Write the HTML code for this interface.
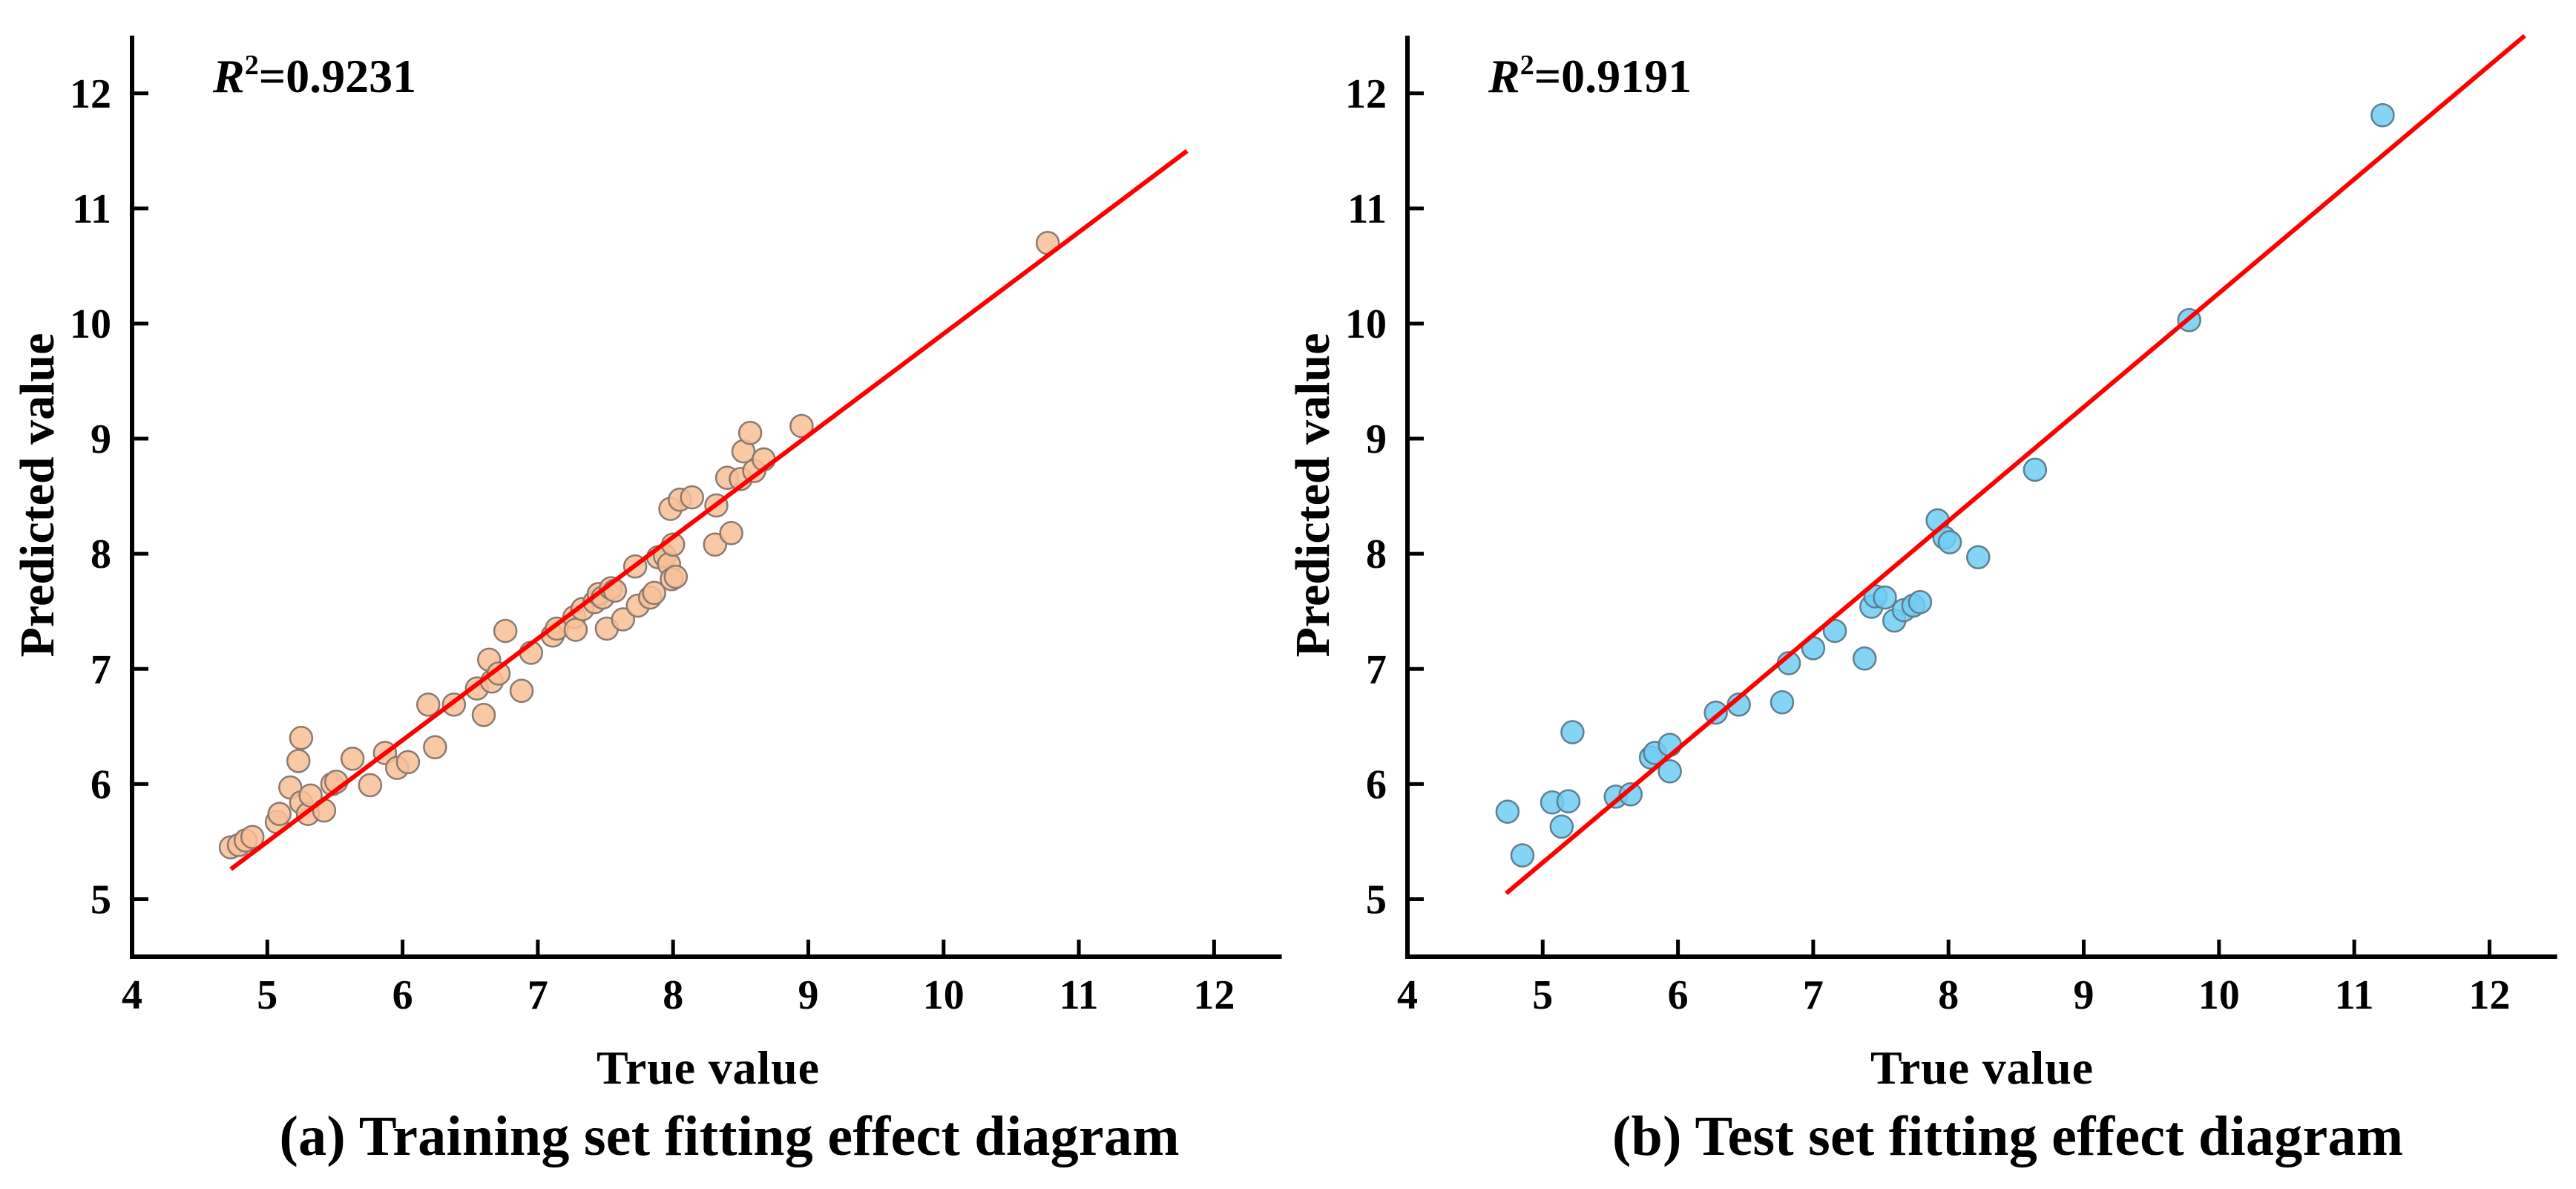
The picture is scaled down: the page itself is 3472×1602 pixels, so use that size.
<!DOCTYPE html>
<html><head><meta charset="utf-8"><style>
html,body{margin:0;padding:0;background:#fff;}
svg{display:block;font-family:"Liberation Serif",serif;font-weight:bold;}
</style></head><body>
<svg id="fig" width="3472" height="1602" viewBox="0 0 3472 1602">
<text x="287" y="124" font-size="64"><tspan font-style="italic">R</tspan><tspan font-size="38" dy="-24">2</tspan><tspan dy="24">=0.9231</tspan></text>
<text x="2006" y="124" font-size="64"><tspan font-style="italic">R</tspan><tspan font-size="38" dy="-24">2</tspan><tspan dy="24">=0.9191</tspan></text>
<text x="954" y="1460" font-size="64" text-anchor="middle" textLength="300">True value</text>
<text x="2671" y="1460" font-size="64" text-anchor="middle" textLength="300">True value</text>
<text transform="translate(72,667) rotate(-90)" font-size="66" text-anchor="middle">Predicted value</text>
<text transform="translate(1791,667) rotate(-90)" font-size="66" text-anchor="middle">Predicted value</text>
<text x="983" y="1556" font-size="76" text-anchor="middle" textLength="1213">(a) Training set fitting effect diagram</text>
<text x="2706" y="1556" font-size="76" text-anchor="middle" textLength="1066">(b) Test set fitting effect diagram</text>
</svg>
<script>
const xTicks=[4,5,6,7,8,9,10,11,12];
const yTicks=[5,6,7,8,9,10,11,12];
const trainX=[4.73,4.79,4.84,4.89,5.07,5.09,5.17,5.23,5.25,5.25,5.30,5.32,5.42,5.48,5.51,5.63,5.76,5.87,5.96,6.04,6.19,6.24,6.38,6.55,6.60,6.64,6.66,6.71,6.76,6.88,6.95,7.11,7.14,7.27,7.28,7.33,7.42,7.45,7.48,7.51,7.54,7.57,7.63,7.72,7.74,7.83,7.86,7.89,7.94,7.97,8.00,7.98,7.99,8.02,8.05,8.14,8.31,8.32,8.40,8.43,8.50,8.52,8.57,8.60,8.67,8.95,10.77];
const trainY=[5.45,5.47,5.51,5.54,5.67,5.74,5.97,6.20,6.40,5.84,5.74,5.90,5.77,6.00,6.02,6.22,5.99,6.27,6.14,6.19,6.69,6.32,6.69,6.83,6.60,7.08,6.89,6.96,7.33,6.81,7.14,7.29,7.35,7.45,7.34,7.52,7.58,7.65,7.62,7.35,7.70,7.68,7.43,7.89,7.55,7.62,7.66,7.97,7.98,7.91,8.08,8.39,7.78,7.80,8.47,8.49,8.08,8.42,8.66,8.18,8.65,8.89,9.05,8.72,8.82,9.11,10.70];
const testX=[4.74,4.85,5.07,5.14,5.19,5.22,5.54,5.65,5.80,5.83,5.94,5.94,6.28,6.45,6.77,6.82,7.00,7.16,7.38,7.43,7.46,7.53,7.60,7.67,7.74,7.79,7.92,7.97,8.01,8.22,8.64,9.78,11.21];
const testY=[5.76,5.38,5.84,5.63,5.85,6.45,5.89,5.91,6.23,6.27,6.34,6.11,6.62,6.69,6.71,7.05,7.18,7.33,7.09,7.54,7.63,7.62,7.42,7.51,7.55,7.58,8.29,8.14,8.10,7.97,8.73,10.03,11.81];
const trainFit=[[4.73,5.26],[11.8,11.5]];
const testFit=[[4.73,5.05],[12.26,12.5]];
const NS='http://www.w3.org/2000/svg';
const svg=document.getElementById('fig');
function mk(tag,attrs){const e=document.createElementNS(NS,tag);for(const k in attrs)e.setAttribute(k,attrs[k]);svg.appendChild(e);return e;}
function panel(id,x0,xs,ys,fit,fill,stroke){
  const sx=v=>x0+(v-4)*182.3;
  const sy=v=>1289-(v-4.5)*155.1;
  let e;
  e=mk('line',{x1:x0,y1:48,x2:x0,y2:1289,stroke:'#000','stroke-width':6});
  
  
  e=mk('line',{x1:x0-3,y1:1289,x2:sx(12.5),y2:1289,stroke:'#000','stroke-width':6});
  
  
  xTicks.forEach(t=>{
    if(t>4){e=mk('line',{x1:sx(t),y1:1289,x2:sx(t),y2:1266,stroke:'#000','stroke-width':5});
    
    }
    e=mk('text',{x:sx(t),y:1359,'font-size':56,'text-anchor':'middle'});e.textContent=t;
    
    
  });
  yTicks.forEach(t=>{
    e=mk('line',{x1:x0,y1:sy(t),x2:x0+22,y2:sy(t),stroke:'#000','stroke-width':5});
    
    
    e=mk('text',{x:x0-28,y:sy(t)+19,'font-size':56,'text-anchor':'end'});e.textContent=t;
    
    
  });
  xs.forEach((v,i)=>{
    e=mk('circle',{cx:sx(v),cy:sy(ys[i]),r:15,fill:fill,'fill-opacity':0.85,stroke:stroke,'stroke-width':2.5});
    
    
  });
  e=mk('line',{x1:sx(fit[0][0]),y1:sy(fit[0][1]),x2:sx(fit[1][0]),y2:sy(fit[1][1]),stroke:'#ff0000','stroke-width':6});
  
  
}
panel('train',178,trainX,trainY,trainFit,'#f8bf96','#8a7a70');
panel('test',1897,testX,testY,testFit,'#6fcdf3','#5f7f8f');
</script>
</body></html>
